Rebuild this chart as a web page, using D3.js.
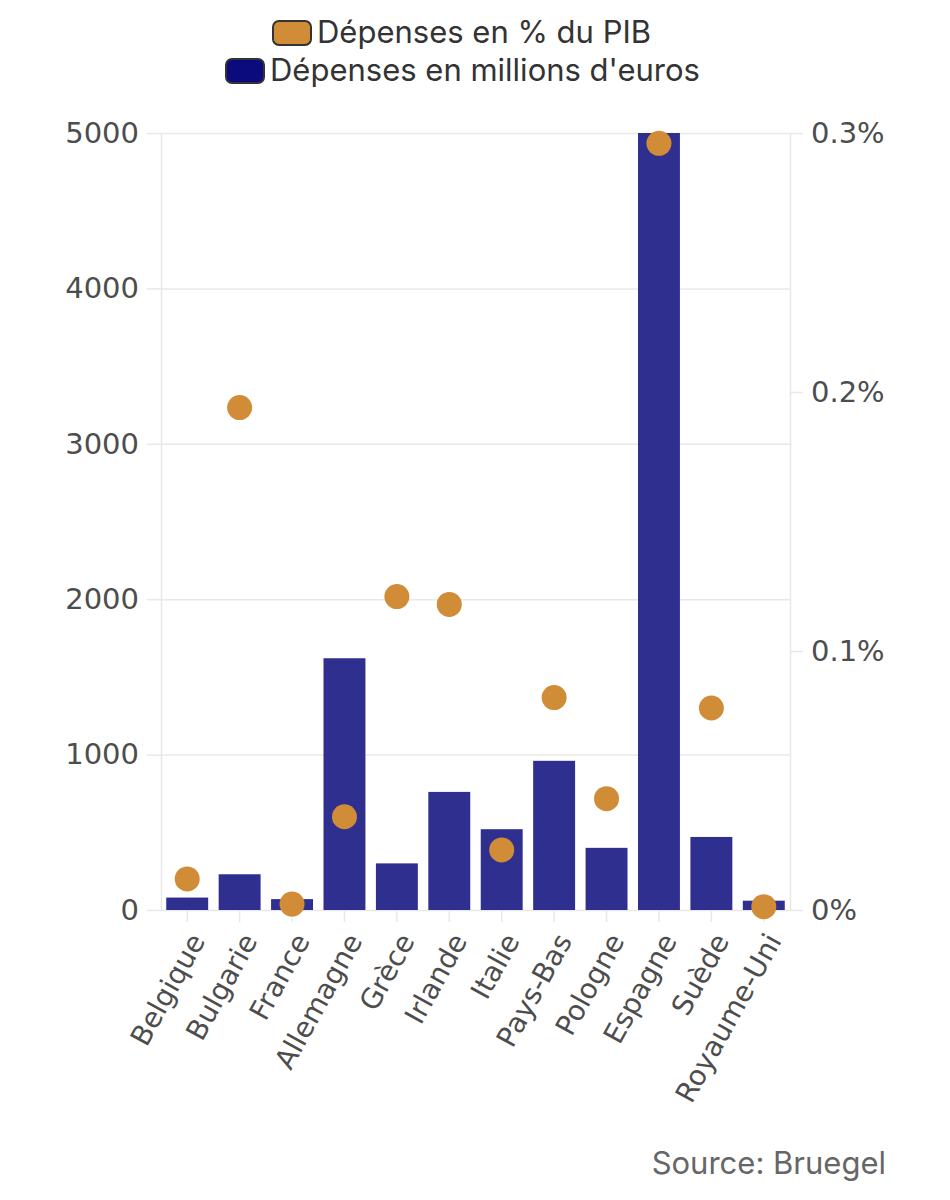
<!DOCTYPE html>
<html>
<head>
<meta charset="utf-8">
<script src="https://cdn.jsdelivr.net/npm/d3@7"></script>
<style>
  body { margin: 0; background: #fff; }
  svg { display: block; }
</style>
</head>
<body>
<script>
// data
var countries = ["Belgique", "Bulgarie", "France", "Allemagne", "Grèce", "Irlande",
  "Italie", "Pays-Bas", "Pologne", "Espagne", "Suède", "Royaume-Uni"];
var spendMillions = [80, 230, 70, 1620, 300, 760, 520, 960, 400, 5000, 470, 60];  // millions d'euros
var spendPctGdp = [0.012, 0.194, 0.0023, 0.036, 0.121, 0.118, 0.0232, 0.082, 0.043, 0.296, 0.078, 0.0013]; // % du PIB
var leftTicks = [0, 1000, 2000, 3000, 4000, 5000];
var rightTicks = [0, 0.1, 0.2, 0.3];
var legendLabels = ["Dépenses en % du PIB", "Dépenses en millions d'euros"];

var W = 950, H = 1200;
var plotLeft = 161, plotRight = 790, plotTop = 133, plotBottom = 910;
var barColor = "#2f2f8f", dotColor = "#d08c36", gridColor = "#e8e8e8";
var axisFont = "DejaVu Sans";

var svg = d3.select("body").append("svg").attr("width", W).attr("height", H);

var x = d3.scaleBand().domain(countries).range([plotLeft, plotRight]).paddingInner(0.2).paddingOuter(0.1);
var yL = d3.scaleLinear().domain([0, 5000]).range([plotBottom, plotTop]);
var yR = d3.scaleLinear().domain([0, 0.3]).range([plotBottom, plotTop]);

// horizontal gridlines (left axis ticks)
svg.append("g")
  .attr("transform", "translate(" + plotLeft + ",0)")
  .call(d3.axisLeft(yL).tickValues(leftTicks).tickSize(-(plotRight - plotLeft)).tickFormat(""))
  .call(function(g) {
    g.select(".domain").remove();
    g.selectAll("line").attr("stroke", gridColor).attr("stroke-width", 1.5);
  });

// left axis
svg.append("g")
  .attr("transform", "translate(" + plotLeft + ",0)")
  .call(d3.axisLeft(yL).tickValues(leftTicks).tickSize(14).tickPadding(8).tickSizeOuter(0)
    .tickFormat(d3.format("d")))
  .call(function(g) {
    g.select(".domain").attr("stroke", gridColor).attr("stroke-width", 1.5);
    g.selectAll("line").attr("stroke", gridColor).attr("stroke-width", 1.5);
    g.selectAll("text").attr("font-family", axisFont).attr("font-size", 29).attr("fill", "#4d4d4d");
  });

// right axis
svg.append("g")
  .attr("transform", "translate(" + plotRight + ",0)")
  .call(d3.axisRight(yR).tickValues(rightTicks).tickSize(13).tickPadding(8).tickSizeOuter(0)
    .tickFormat(function(d) { return d3.format("~g")(+d.toFixed(2)) + "%"; }))
  .call(function(g) {
    g.select(".domain").attr("stroke", gridColor).attr("stroke-width", 1.5);
    g.selectAll("line").attr("stroke", gridColor).attr("stroke-width", 1.5);
    g.selectAll("text").attr("font-family", axisFont).attr("font-size", 29).attr("fill", "#4d4d4d");
  });

// bottom axis
svg.append("g")
  .attr("transform", "translate(0," + plotBottom + ")")
  .call(d3.axisBottom(x).tickSize(12).tickSizeOuter(0))
  .call(function(g) {
    g.select(".domain").remove();
    g.selectAll("line").attr("stroke", gridColor).attr("stroke-width", 1.5);
    g.selectAll("text")
      .attr("font-family", axisFont).attr("font-size", 28).attr("fill", "#4d4d4d")
      .attr("text-anchor", "end")
      .attr("y", 0).attr("dy", "0.35em")
      .attr("transform", "translate(10,26) rotate(-61)");
  });

// bars
svg.append("g").selectAll("rect")
  .data(countries)
  .enter()
  .append("rect")
  .attr("x", function(d) { return x(d); })
  .attr("width", x.bandwidth())
  .attr("y", function(d, i) { return yL(spendMillions[i]); })
  .attr("height", function(d, i) { return yL(0) - yL(spendMillions[i]); })
  .attr("fill", barColor);

// dots
svg.append("g").selectAll("circle")
  .data(countries)
  .enter()
  .append("circle")
  .attr("cx", function(d) { return x(d) + x.bandwidth() / 2; })
  .attr("cy", function(d, i) { return yR(spendPctGdp[i]); })
  .attr("r", 12.5)
  .attr("fill", dotColor);

// legend
var legendFill = [dotColor, "#0b0b7d"];
var legendRows = [{ x: 272, y: 20 }, { x: 225, y: 58 }];
var lg = svg.append("g").selectAll("g")
  .data(legendLabels)
  .enter()
  .append("g")
  .attr("transform", function(d, i) { return "translate(" + legendRows[i].x + "," + legendRows[i].y + ")"; });
lg.append("rect")
  .attr("x", 1).attr("y", 1).attr("width", 38).attr("height", 24).attr("rx", 6)
  .attr("fill", function(d, i) { return legendFill[i]; })
  .attr("stroke", "#333").attr("stroke-width", 2);
lg.append("text")
  .attr("x", 45).attr("y", 23)
  .attr("font-family", "Inter").attr("font-size", 31).attr("fill", "#333")
  .text(function(d) { return d; });

// source
svg.append("text")
  .attr("x", 886).attr("y", 1174)
  .attr("text-anchor", "end")
  .attr("font-family", "Inter").attr("font-size", 31).attr("fill", "#666")
  .text("Source: Bruegel");
</script>
</body>
</html>
